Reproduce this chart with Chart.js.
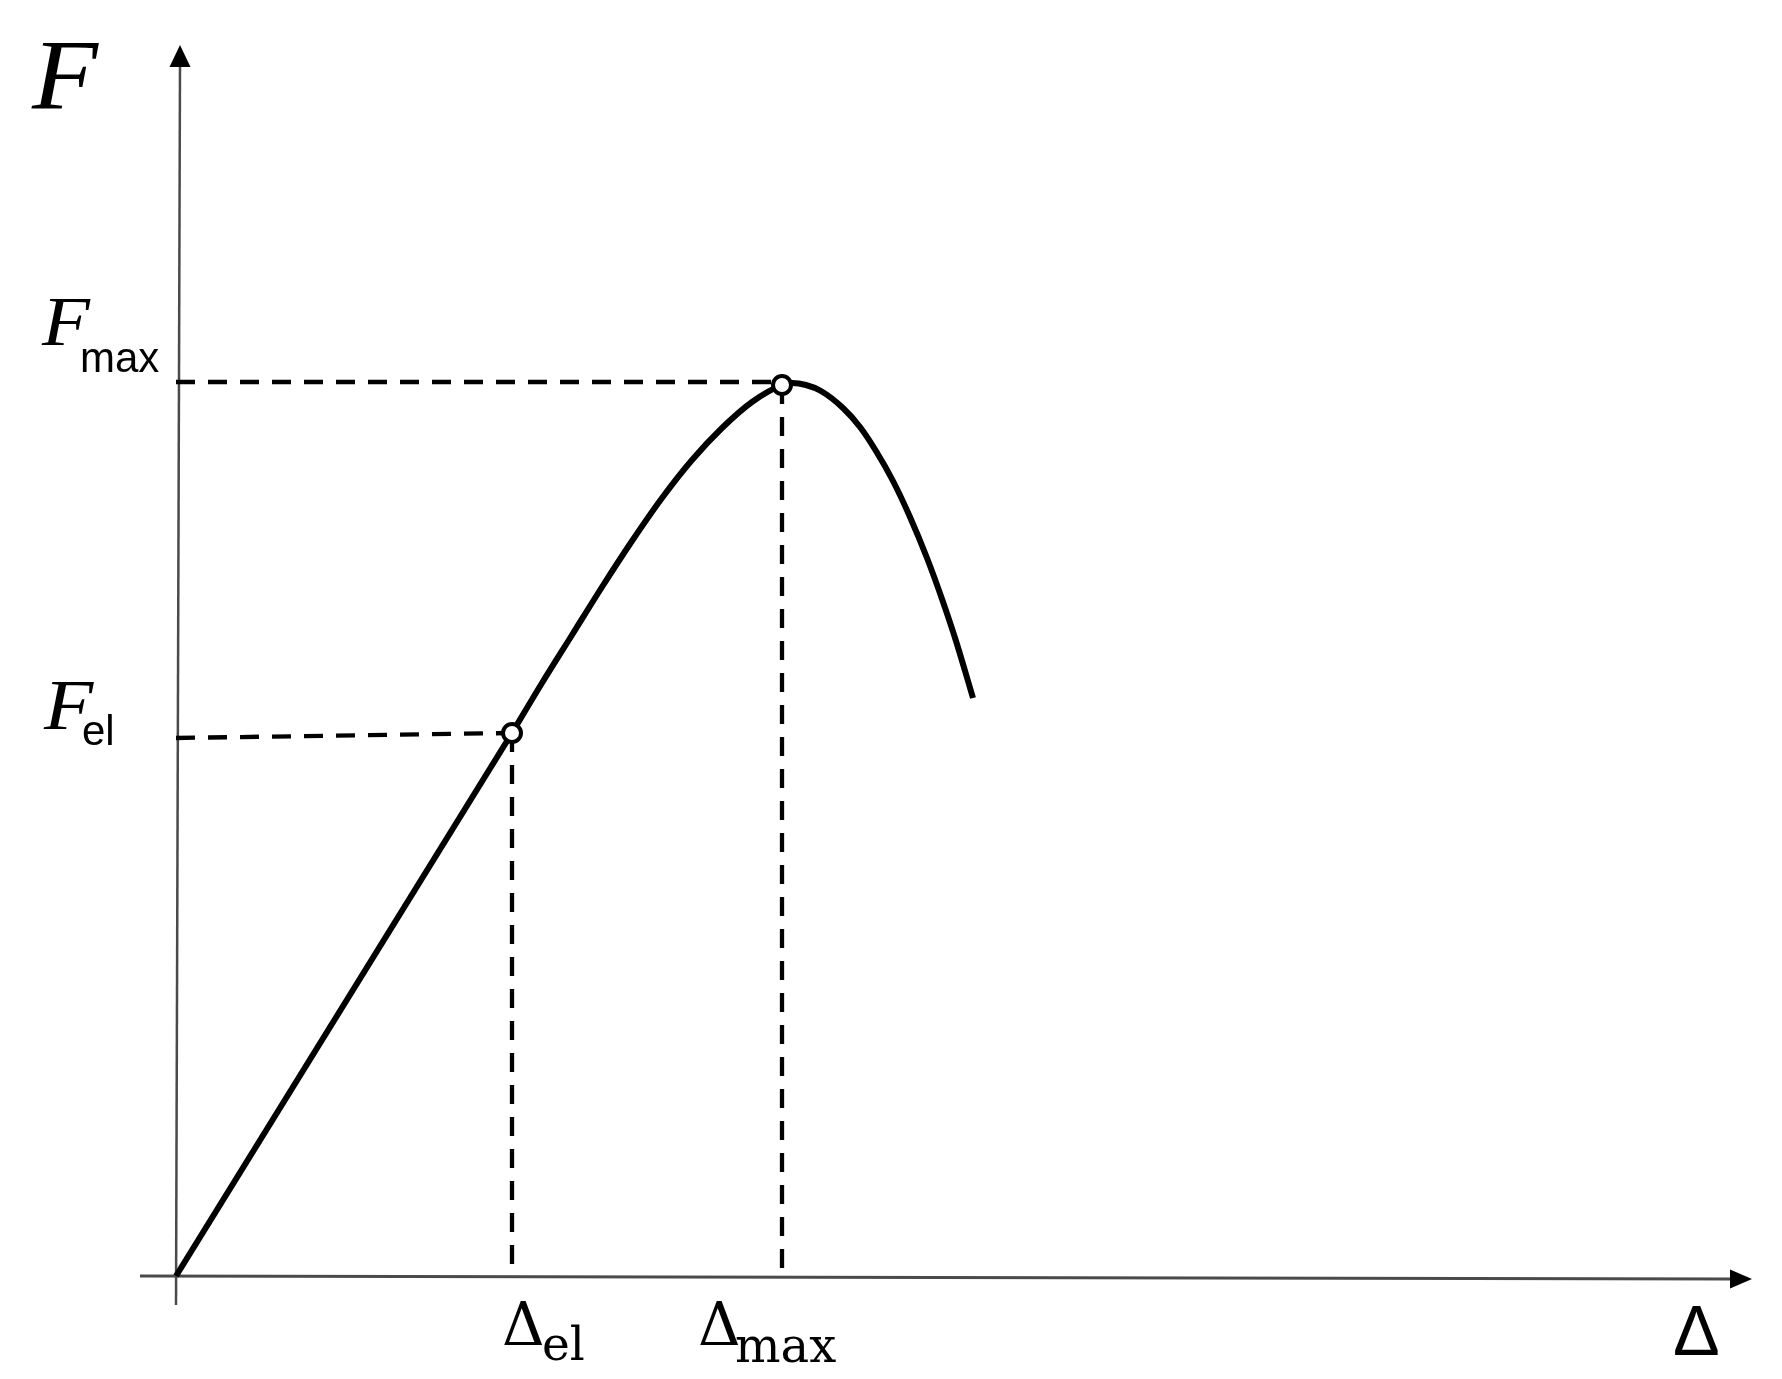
<!DOCTYPE html>
<html>
<head>
<meta charset="utf-8">
<script src="https://cdn.jsdelivr.net/npm/chart.js@4/dist/chart.umd.min.js"></script>
<style>
  html, body { margin: 0; padding: 0; background: #fff; }
  #wrap { width: 1782px; height: 1379px; }
</style>
</head>
<body>
<div id="wrap"><canvas id="chart-fd" width="1782" height="1379"></canvas></div>
<script>
// Kurva gaya-perpindahan (satuan bebas)
const elasticX = [0, 3.36];
const elasticY = [0, 5.43];

const plasticX = [3.36, 3.66, 3.96, 4.26, 4.56, 4.86, 5.16, 5.46, 5.76, 6.06, 6.16, 6.30, 6.45, 6.67, 6.84, 7.00, 7.17, 7.34, 7.51, 7.66, 7.80, 7.97];
const plasticY = [5.43, 5.93, 6.41, 6.89, 7.35, 7.78, 8.16, 8.48, 8.74, 8.91, 8.93, 8.91, 8.85, 8.68, 8.49, 8.25, 7.95, 7.59, 7.18, 6.77, 6.35, 5.78];

// titik penting: batas elastis & gaya maksimum
const keyX = [3.36, 6.06];
const keyY = [5.43, 8.91];

// batas sumbu
const xAxisMin = -0.36, xAxisMax = 15.76;
const yAxisMin = -0.29, yAxisMax = 12.31;

const toPts = (xs, ys) => xs.map((v, i) => ({ x: v, y: ys[i] }));

const dashStyle = {
    borderColor: '#000',
    borderWidth: 4.3,
    borderDash: [19, 13],
    pointRadius: 0,
    fill: false,
    clip: false,
    order: 2
};

// teks dengan skala horizontal (F miring agak lebar di aslinya)
function drawText(ctx, txt, x, y, font, sx) {
    ctx.save();
    ctx.font = font;
    ctx.translate(x, y);
    ctx.scale(sx || 1, 1);
    ctx.fillText(txt, 0, 0);
    ctx.restore();
}

// Sumbu + panah + label digambar lewat skala Chart.js
const axesPlugin = {
    id: 'axesArrows',
    beforeDatasetsDraw(chart) {
        const { ctx, scales: { x, y } } = chart;
        ctx.save();
        ctx.strokeStyle = '#4a4a4a';
        ctx.fillStyle = '#000';
        ctx.lineWidth = 2.5;

        // sumbu F (sedikit miring seperti aslinya)
        const yb = { x: x.getPixelForValue(0), y: y.getPixelForValue(yAxisMin) };
        const yt = { x: x.getPixelForValue(0.04), y: y.getPixelForValue(yAxisMax) };
        ctx.beginPath();
        ctx.moveTo(yb.x, yb.y);
        ctx.lineTo(yt.x, yt.y + 18);
        ctx.stroke();
        ctx.beginPath();
        ctx.moveTo(yt.x, yt.y);
        ctx.lineTo(yt.x - 10.5, yt.y + 22);
        ctx.lineTo(yt.x + 10.5, yt.y + 22);
        ctx.closePath();
        ctx.fill();

        // sumbu Delta
        const xl = { x: x.getPixelForValue(xAxisMin), y: y.getPixelForValue(0) };
        const xr = { x: x.getPixelForValue(xAxisMax), y: y.getPixelForValue(-0.03) };
        ctx.lineWidth = 2.8;
        ctx.beginPath();
        ctx.moveTo(xl.x, xl.y);
        ctx.lineTo(xr.x - 18, xr.y);
        ctx.stroke();
        ctx.beginPath();
        ctx.moveTo(xr.x, xr.y);
        ctx.lineTo(xr.x - 22, xr.y - 9.5);
        ctx.lineTo(xr.x - 22, xr.y + 9.5);
        ctx.closePath();
        ctx.fill();
        ctx.restore();
    },
    afterDraw(chart) {
        const { ctx, scales: { x, y } } = chart;
        const x0 = x.getPixelForValue(0);
        const y0 = y.getPixelForValue(0);
        ctx.save();
        ctx.fillStyle = '#000';
        ctx.textAlign = 'left';
        ctx.textBaseline = 'alphabetic';

        // F besar di atas
        drawText(ctx, 'F', x0 - 144, y.getPixelForValue(yAxisMax) + 63, 'italic 100px "Liberation Serif"', 1.08);

        // F_max
        const yMax = y.getPixelForValue(keyY[1]);
        drawText(ctx, 'F', x0 - 134, yMax - 40, 'italic 70px "Liberation Serif"', 1.12);
        drawText(ctx, 'max', x0 - 96, yMax - 13, '42px "Liberation Sans"');

        // F_el
        const yEl = y.getPixelForValue(keyY[0]);
        drawText(ctx, 'F', x0 - 132, yEl - 4, 'italic 72px "Liberation Serif"', 1.12);
        drawText(ctx, 'el', x0 - 94, yEl + 12, '42px "Liberation Sans"');

        // Delta_el, Delta_max
        const xEl = x.getPixelForValue(keyX[0]);
        const xMx = x.getPixelForValue(keyX[1]);
        drawText(ctx, '\u0394', xEl - 10, y0 + 69, '59px "DejaVu Serif"');
        drawText(ctx, '\u0394', xMx - 84, y0 + 69, '59px "DejaVu Serif"');
        drawText(ctx, 'el', xEl + 30, y0 + 84, '47px "DejaVu Serif"');
        drawText(ctx, 'max', xMx - 47, y0 + 86, '48px "DejaVu Serif"');

        // Delta di ujung sumbu
        drawText(ctx, '\u0394', x.getPixelForValue(xAxisMax) - 79, y0 + 79, '70px "Liberation Sans"');
        ctx.restore();
    }
};

new Chart(document.getElementById('chart-fd'), {
    type: 'line',
    data: {
        datasets: [
            // garis putus-putus bantu
            { ...dashStyle, data: [{ x: 0, y: 5.38 }, { x: keyX[0], y: keyY[0] }] },
            { ...dashStyle, data: [{ x: keyX[0], y: keyY[0] }, { x: keyX[0], y: 0 }] },
            { ...dashStyle, data: [{ x: 0, y: 8.94 }, { x: keyX[1], y: 8.94 }] },
            { ...dashStyle, data: [{ x: keyX[1], y: keyY[1] }, { x: keyX[1], y: 0.06 }] },
            // daerah elastis (lurus)
            {
                data: toPts(elasticX, elasticY),
                borderColor: '#000',
                borderWidth: 6,
                pointRadius: 0,
                tension: 0,
                clip: false,
                order: 1
            },
            // daerah plastis (lengkung)
            {
                data: toPts(plasticX, plasticY),
                borderColor: '#000',
                borderWidth: 6,
                pointRadius: 0,
                cubicInterpolationMode: 'monotone',
                clip: false,
                order: 1
            },
            // titik F_el dan F_max
            {
                type: 'scatter',
                data: toPts(keyX, keyY),
                pointRadius: 9,
                pointBorderWidth: 4,
                pointBackgroundColor: '#fff',
                pointBorderColor: '#000',
                showLine: false,
                clip: false,
                order: 0
            }
        ]
    },
    options: {
        responsive: false,
        animation: false,
        layout: {
            padding: { left: 176, right: 30, top: 45, bottom: 103 }
        },
        plugins: {
            legend: { display: false },
            tooltip: { enabled: false }
        },
        scales: {
            x: { type: 'linear', min: 0, max: xAxisMax, display: false },
            y: { type: 'linear', min: 0, max: yAxisMax, display: false }
        }
    },
    plugins: [axesPlugin]
});
</script>
</body>
</html>
